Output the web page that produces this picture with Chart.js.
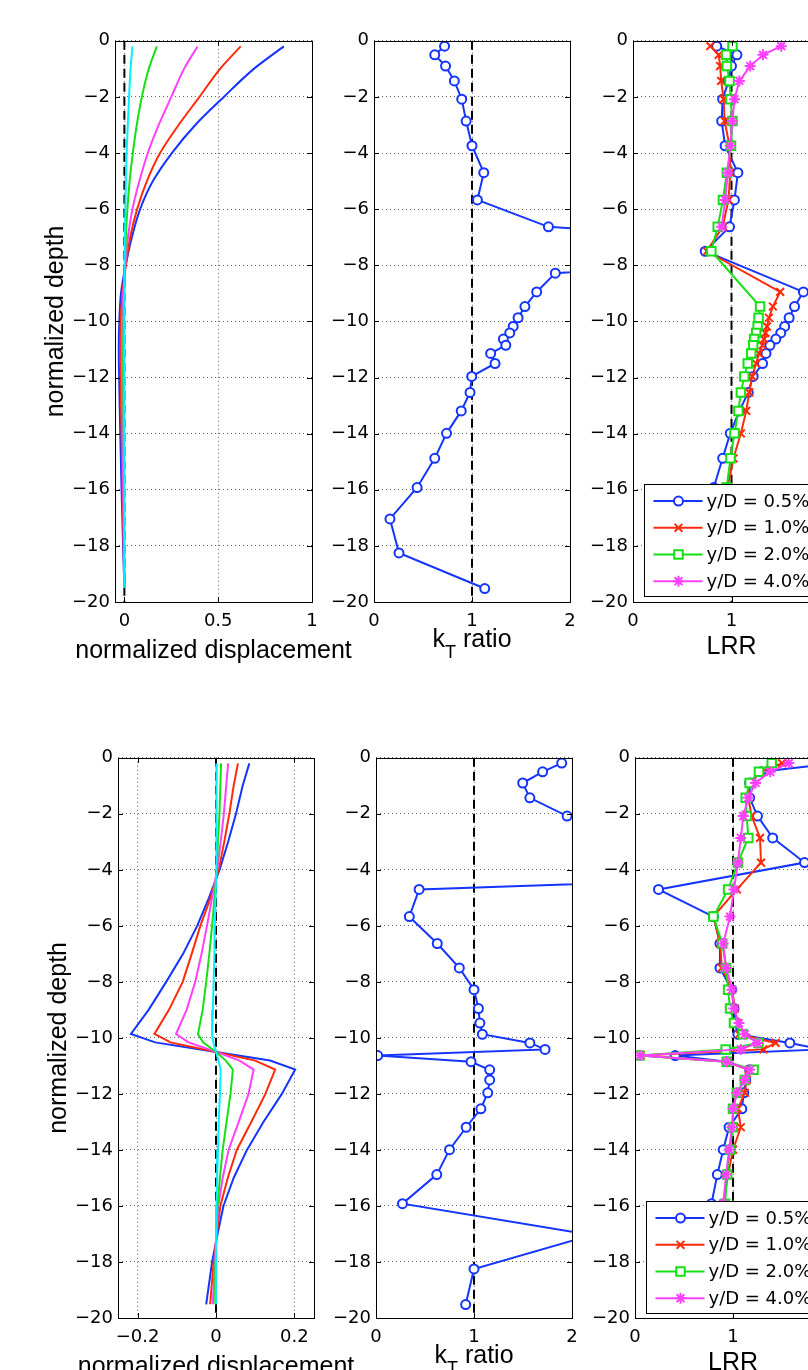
<!DOCTYPE html>
<html>
<head>
<meta charset="utf-8">
<script src="https://cdn.jsdelivr.net/npm/chart.js@4.4.1/dist/chart.umd.min.js"></script>
<style>
  html, body { margin: 0; padding: 0; overflow: hidden; background: #fff; }
  body { width: 808px; height: 1370px; position: relative; }
  canvas { position: absolute; }
</style>
</head>
<body>
<canvas id="dispTop"></canvas>
<canvas id="ratioTop"></canvas>
<canvas id="lrrTop"></canvas>
<canvas id="dispBot"></canvas>
<canvas id="ratioBot"></canvas>
<canvas id="lrrBot"></canvas>
<script>
// Профілі переміщень, k_T і LRR по глибині палі (верхній і нижній ряди).

const depthTicks = [0, -2, -4, -6, -8, -10, -12, -14, -16, -18, -20];
const dispTicksTop = [0, 0.5, 1];
const dispTicksBot = [-0.2, 0, 0.2];
const ratioTicks = [0, 1, 2];
const legendLabels = ["y/D = 0.5%", "y/D = 1.0%", "y/D = 2.0%", "y/D = 4.0%"];

// верхній ряд: переміщення
const dispDepthTop = [-0.2, -1, -2, -3, -4, -5, -6, -7, -8, -9, -10, -11, -12, -14, -16, -18, -19.5];
const dispTopBlue    = [0.85, 0.69, 0.53, 0.378, 0.253, 0.152, 0.084, 0.04, 0.007, -0.018, -0.027, -0.03, -0.028, -0.022, -0.015, -0.007, 0];
const dispTopRed     = [0.62, 0.51, 0.4, 0.289, 0.19, 0.12, 0.068, 0.031, 0.008, -0.01, -0.02, -0.022, -0.02, -0.015, -0.01, -0.004, 0];
const dispTopMagenta = [0.39, 0.318, 0.25, 0.183, 0.125, 0.08, 0.043, 0.019, 0.005, -0.006, -0.012, -0.014, -0.013, -0.01, -0.006, -0.003, 0];
const dispTopGreen   = [0.173, 0.13, 0.093, 0.066, 0.045, 0.028, 0.016, 0.008, 0.003, -0.002, -0.005, -0.006, -0.006, -0.004, -0.002, -0.001, 0];
const dispTopCyan    = [0.043, 0.033, 0.025, 0.018, 0.012, 0.008, 0.005, 0.003, 0.001, 0, -0.001, -0.001, -0.001, -0.001, 0, 0, 0];

// нижній ряд: переміщення
const dispDepthBot = [-0.2, -1, -2, -3, -4, -5, -6, -7, -8, -9, -9.86, -10.16, -10.5, -10.81, -11.13, -12, -13, -14, -15, -16, -17, -18, -19.51];
const dispBotBlue    = [0.085, 0.068, 0.051, 0.031, 0.009, -0.018, -0.048, -0.084, -0.127, -0.172, -0.217, -0.155, 0, 0.138, 0.202, 0.168, 0.121, 0.079, 0.045, 0.019, 0.004, -0.01, -0.025];
const dispBotRed     = [0.056, 0.045, 0.034, 0.021, 0.007, -0.014, -0.04, -0.062, -0.085, -0.12, -0.157, -0.116, 0, 0.1, 0.151, 0.126, 0.09, 0.053, 0.03, 0.011, 0.002, -0.006, -0.015];
const dispBotMagenta = [0.031, 0.026, 0.02, 0.012, 0.003, -0.01, -0.023, -0.037, -0.053, -0.075, -0.102, -0.07, 0, 0.06, 0.096, 0.083, 0.058, 0.032, 0.017, 0.006, 0.001, -0.003, -0.008];
const dispBotGreen   = [0.013, 0.011, 0.009, 0.005, 0.002, -0.004, -0.01, -0.017, -0.025, -0.034, -0.046, -0.033, 0, 0.025, 0.043, 0.037, 0.027, 0.017, 0.01, 0.004, 0.001, -0.001, -0.002];
const dispBotCyan    = [0.002, 0.002, 0.001, 0.001, 0, -0.001, -0.003, -0.004, -0.006, -0.008, -0.01, -0.007, 0, 0.006, 0.012, 0.01, 0.007, 0.005, 0.003, 0.001, 0, 0, 0];

// глибини точок по палі (k_T і LRR)
const pileDepth = [-0.19, -0.5, -0.9, -1.43, -2.08, -2.86, -3.74, -4.7, -5.67, -6.63, -7.5, -8.28, -8.95, -9.47, -9.87,
  -10.18, -10.41, -10.63, -10.85, -11.14, -11.5, -11.96, -12.53, -13.19, -13.99, -14.88, -15.92, -17.04, -18.25, -19.52];

const ratioTop = [0.72, 0.62, 0.73, 0.82, 0.895, 0.94, 1.0, 1.12, 1.055, 1.78, 5.7, 1.85, 1.66, 1.54, 1.47,
  1.42, 1.385, 1.32, 1.345, 1.19, 1.235, 0.997, 0.98, 0.89, 0.74, 0.62, 0.44, 0.163, 0.255, 1.13];
const ratioBot = [1.895, 1.7, 1.497, 1.57, 1.95, 6.0, 8.7, 0.44, 0.34, 0.625, 0.85, 1.0, 1.045, 1.06, 1.085,
  1.57, 1.725, 0.017, 0.97, 1.16, 1.16, 1.14, 1.07, 0.92, 0.75, 0.62, 0.27, 2.2, 1.0, 0.915];

const lrrTop05 = [0.85, 1.055, 1.0, 0.97, 0.91, 0.9, 0.935, 1.065, 1.03, 0.98, 0.733, null, 1.73, 1.64, 1.585,
  1.54, 1.5, 1.45, 1.39, 1.35, 1.315, 1.22, 1.17, 1.08, 0.987, 0.91, 0.82, 0.8, 0.85, 0.9];
const lrrTop10 = [0.785, 0.87, 0.885, 0.895, 0.92, 0.93, 0.98, 0.987, 0.97, 0.91, 0.75, null, 1.494, 1.42, 1.38,
  1.36, 1.345, 1.33, 1.315, 1.28, 1.25, 1.21, 1.18, 1.15, 1.095, 1.02, 0.96, 0.95, 0.97, 1.0];
const lrrTop20 = [1.01, 0.946, 0.953, 0.98, 0.99, 1.01, 0.995, 0.953, 0.913, 0.86, 0.795, null, null, 1.29, 1.275,
  1.265, 1.25, 1.23, 1.22, 1.2, 1.165, 1.13, 1.095, 1.07, 1.03, 0.99, 0.95, 0.95, 0.97, 1.0];
const lrrTop40 = [1.505, 1.32, 1.19, 1.08, 1.03, 1.01, 0.987, 0.963, 0.936, 0.9, null, null, null, null, null,
  null, null, null, null, null, null, null, null, null, null, null, null, null, null, null];

const lrrBot05 = [2.05, 1.286, 1.17, 1.17, 1.25, 1.405, 1.73, 0.24, 0.8, 0.867, 0.867, 0.986, 1.01, 1.03, 1.05,
  1.58, 1.9, 0.41, 0.936, 1.17, 1.13, 1.11, 1.09, 0.96, 0.9, 0.84, 0.78, 0.8, 0.85, 0.9];
const lrrBot10 = [1.5, 1.28, 1.17, 1.156, 1.19, 1.276, 1.286, 1.04, 0.8, 0.87, 0.885, 0.99, 1.02, 1.04, 1.06,
  1.435, 1.31, 0.06, 0.94, 1.16, 1.14, 1.12, 1.05, 1.08, 1.0, 0.95, 0.9, 0.9, 0.92, 0.95];
const lrrBot20 = [1.395, 1.265, 1.17, 1.13, 1.14, 1.156, 1.05, 0.95, 0.8, 0.89, 0.93, 0.95, 0.97, 1.01, 1.1,
  1.26, 0.925, 0.045, 0.936, 1.21, 1.12, 1.04, 1.0, 0.997, 0.97, 0.94, 0.92, 0.92, 0.94, 0.95];
const lrrBot40 = [1.57, 1.38, 1.23, 1.156, 1.105, 1.08, 1.05, 1.01, 0.97, 0.9, 0.93, 0.99, 1.01, 1.06, 1.12,
  1.25, 1.08, 0.05, 0.936, 1.17, 1.12, 1.04, 1.0, 0.99, 0.96, 0.93, 0.9, 0.9, 0.92, 0.94];

const BLUE = "#1434ff", RED = "#ff2a0a", GREEN = "#14e014", MAGENTA = "#ff40ff", CYAN = "#00f0ff";
const TICK_FONT = { family: '"DejaVu Sans", sans-serif', size: 18 };
const LABEL_FONT = '25px "Liberation Sans", Arial, sans-serif';
const SUB_FONT = '18px "Liberation Sans", Arial, sans-serif';
const LEGEND_FONT = '18px "DejaVu Sans", sans-serif';
const PAD_T = 14, PAD_B = 72, TICK_LEN = 5;

const GEO = {
  dispTop:  { left: 115, top: 39, w: 197, h: 563, padL: 110, padR: 60 },
  ratioTop: { left: 374, top: 39, w: 196, h: 563, padL: 60, padR: 24 },
  lrrTop:   { left: 633, top: 39, w: 197, h: 563, padL: 60, padR: 24 },
  dispBot:  { left: 118, top: 756, w: 196, h: 562, padL: 110, padR: 60 },
  ratioBot: { left: 376, top: 756, w: 196, h: 562, padL: 60, padR: 24 },
  lrrBot:   { left: 635, top: 756, w: 196, h: 562, padL: 60, padR: 24 }
};

const fmt = v => (v < 0 ? "\u2212" : "") + String(Math.abs(v));
const toPoints = (depths, values) => depths.map((d, i) => ({ x: values[i], y: d }));

function curve(color, depths, values, order) {
  return { data: toPoints(depths, values), borderColor: color, borderWidth: 2, pointRadius: 0, order, fill: false };
}

function marked(label, color, depths, values, style, radius, order) {
  return {
    label, legend: true, data: toPoints(depths, values), borderColor: color, borderWidth: 2,
    pointStyle: style, pointRadius: radius, pointBorderWidth: 2, pointBorderColor: color,
    pointBackgroundColor: "#fff", spanGaps: true, tension: 0, order, fill: false
  };
}

function refLine(x) {
  return { data: [{ x, y: 0 }, { x, y: -20 }], borderColor: "#000", borderWidth: 2, borderDash: [9, 5], pointRadius: 0, order: 10 };
}

function lrrSets(v05, v10, v20, v40) {
  return [
    marked(legendLabels[0], BLUE, pileDepth, v05, "circle", 4.5, 4),
    marked(legendLabels[1], RED, pileDepth, v10, "crossRot", 5.5, 3),
    marked(legendLabels[2], GREEN, pileDepth, v20, "rect", 6, 2),
    marked(legendLabels[3], MAGENTA, pileDepth, v40, "star", 5.5, 1),
    refLine(1)
  ];
}

// рамка осей з внутрішніми рисками, як у MATLAB
const matlabFrame = {
  id: "matlabFrame",
  afterDatasetsDraw(chart) {
    const { ctx, chartArea: a, scales: { x, y } } = chart;
    ctx.save();
    ctx.strokeStyle = "#000";
    ctx.lineWidth = 1;
    ctx.beginPath();
    x.ticks.forEach(t => {
      const px = Math.round(x.getPixelForValue(t.value)) + 0.5;
      ctx.moveTo(px, a.bottom); ctx.lineTo(px, a.bottom - TICK_LEN);
      ctx.moveTo(px, a.top); ctx.lineTo(px, a.top + TICK_LEN);
    });
    y.ticks.forEach(t => {
      const py = Math.round(y.getPixelForValue(t.value)) + 0.5;
      ctx.moveTo(a.left, py); ctx.lineTo(a.left + TICK_LEN, py);
      ctx.moveTo(a.right, py); ctx.lineTo(a.right - TICK_LEN, py);
    });
    ctx.stroke();
    ctx.strokeRect(Math.round(a.left) + 0.5, Math.round(a.top) + 0.5, Math.round(a.right - a.left), Math.round(a.bottom - a.top));
    ctx.restore();
  }
};

// підписи осей (з нижнім індексом для k_T)
const axisTitles = {
  id: "axisTitles",
  afterDraw(chart, args, opts) {
    const { ctx, chartArea: a } = chart;
    ctx.save();
    ctx.fillStyle = "#000";
    if (opts.x) {
      const parts = opts.x.map(p => {
        ctx.font = p.sub ? SUB_FONT : LABEL_FONT;
        return { ...p, w: ctx.measureText(p.text).width };
      });
      const total = parts.reduce((s, p) => s + p.w, 0);
      let px = (a.left + a.right) / 2 - total / 2;
      const base = a.bottom + opts.xBase;
      ctx.textAlign = "left";
      ctx.textBaseline = "alphabetic";
      parts.forEach(p => {
        ctx.font = p.sub ? SUB_FONT : LABEL_FONT;
        ctx.fillText(p.text, px, base + (p.sub ? 11 : 0));
        px += p.w;
      });
    }
    if (opts.y) {
      ctx.translate(a.left - opts.yOffset, (a.top + a.bottom) / 2);
      ctx.rotate(-Math.PI / 2);
      ctx.font = LABEL_FONT;
      ctx.textAlign = "center";
      ctx.textBaseline = "middle";
      ctx.fillText(opts.y, 0, 0);
    }
    ctx.restore();
  }
};

// легенда всередині області графіка
const inlineLegend = {
  id: "inlineLegend",
  afterDatasetsDraw(chart, args, opts) {
    if (!opts.show) return;
    const { ctx, chartArea: a } = chart;
    const x0 = Math.round(a.left + 11) + 0.5, y0 = Math.round(a.top + 443) + 0.5, w = 185, h = 112;
    ctx.save();
    ctx.fillStyle = "#fff";
    ctx.fillRect(x0, y0, w, h);
    ctx.strokeStyle = "#000";
    ctx.lineWidth = 1;
    ctx.strokeRect(x0, y0, w, h);
    chart.data.datasets.filter(d => d.legend).forEach((ds, i) => {
      const cy = y0 + 16.6 + i * 26.7;
      ctx.strokeStyle = ds.borderColor;
      ctx.lineWidth = ds.borderWidth;
      ctx.beginPath();
      ctx.moveTo(x0 + 9, cy);
      ctx.lineTo(x0 + 58, cy);
      ctx.stroke();
      ctx.fillStyle = ds.pointBackgroundColor;
      ctx.lineWidth = ds.pointBorderWidth;
      Chart.helpers.drawPoint(ctx, { pointStyle: ds.pointStyle, radius: ds.pointRadius, rotation: 0, borderWidth: ds.pointBorderWidth }, x0 + 34, cy);
      ctx.fillStyle = "#000";
      ctx.font = LEGEND_FONT;
      ctx.textAlign = "left";
      ctx.textBaseline = "middle";
      ctx.fillText(ds.label, x0 + 62, cy + 1);
    });
    ctx.restore();
  }
};

function panel(id, { datasets, xMin, xMax, xTicks, xTitle, xBase, yTitle, legend = false, indexAxis = "x" }) {
  const g = GEO[id];
  const canvas = document.getElementById(id);
  canvas.width = g.w + g.padL + g.padR;
  canvas.height = g.h + PAD_T + PAD_B;
  canvas.style.left = (g.left - g.padL) + "px";
  canvas.style.top = (g.top - PAD_T) + "px";
  const gridOpts = { color: "rgba(0,0,0,0.6)", lineWidth: 1, drawTicks: false };
  const borderOpts = { display: false, dash: [1, 3] };
  return new Chart(canvas, {
    type: "line",
    data: { datasets },
    options: {
      responsive: false,
      animation: false,
      events: [],
      indexAxis,
      layout: { padding: { left: 0, top: PAD_T, right: g.padR, bottom: 0 } },
      plugins: {
        legend: { display: false },
        tooltip: { enabled: false },
        axisTitles: { x: xTitle, xBase, y: yTitle, yOffset: 59 },
        inlineLegend: { show: legend }
      },
      scales: {
        x: {
          type: "linear", position: "bottom", min: xMin, max: xMax,
          afterBuildTicks: s => { s.ticks = xTicks.map(value => ({ value })); },
          afterFit: s => { s.height = PAD_B; },
          grid: gridOpts, border: borderOpts,
          ticks: { font: TICK_FONT, color: "#000", padding: 9, maxRotation: 0, callback: fmt }
        },
        y: {
          type: "linear", position: "left", min: -20, max: 0,
          afterBuildTicks: s => { s.ticks = depthTicks.map(value => ({ value })); },
          afterFit: s => { s.width = g.padL; },
          grid: gridOpts, border: borderOpts,
          ticks: { font: TICK_FONT, color: "#000", padding: 5, callback: fmt }
        }
      }
    },
    plugins: [matlabFrame, inlineLegend, axisTitles]
  });
}

const dispTitle = [{ text: "normalized displacement" }];
const ratioTitle = [{ text: "k" }, { text: "T", sub: true }, { text: " ratio" }];
const lrrTitle = [{ text: "LRR" }];

panel("dispTop", {
  indexAxis: "y",
  datasets: [
    { ...curve(BLUE, dispDepthTop, dispTopBlue, 5), cubicInterpolationMode: "monotone" },
    { ...curve(RED, dispDepthTop, dispTopRed, 4), cubicInterpolationMode: "monotone" },
    { ...curve(MAGENTA, dispDepthTop, dispTopMagenta, 3), cubicInterpolationMode: "monotone" },
    { ...curve(GREEN, dispDepthTop, dispTopGreen, 2), cubicInterpolationMode: "monotone" },
    { ...curve(CYAN, dispDepthTop, dispTopCyan, 1), cubicInterpolationMode: "monotone" },
    refLine(0)
  ],
  xMin: -0.05, xMax: 1, xTicks: dispTicksTop, xTitle: dispTitle, xBase: 56, yTitle: "normalized depth"
});

panel("ratioTop", {
  datasets: [marked("k_T", BLUE, pileDepth, ratioTop, "circle", 4.5, 1), refLine(1)],
  xMin: 0, xMax: 2, xTicks: ratioTicks, xTitle: ratioTitle, xBase: 45
});

panel("lrrTop", {
  datasets: lrrSets(lrrTop05, lrrTop10, lrrTop20, lrrTop40),
  xMin: 0, xMax: 2, xTicks: ratioTicks, xTitle: lrrTitle, xBase: 52, legend: true
});

panel("dispBot", {
  datasets: [
    curve(BLUE, dispDepthBot, dispBotBlue, 5),
    curve(RED, dispDepthBot, dispBotRed, 4),
    curve(MAGENTA, dispDepthBot, dispBotMagenta, 3),
    curve(GREEN, dispDepthBot, dispBotGreen, 2),
    curve(CYAN, dispDepthBot, dispBotCyan, 1),
    refLine(0)
  ],
  xMin: -0.25, xMax: 0.25, xTicks: dispTicksBot, xTitle: dispTitle, xBase: 56, yTitle: "normalized depth"
});

panel("ratioBot", {
  datasets: [marked("k_T", BLUE, pileDepth, ratioBot, "circle", 4.5, 1), refLine(1)],
  xMin: 0, xMax: 2, xTicks: ratioTicks, xTitle: ratioTitle, xBase: 45
});

panel("lrrBot", {
  datasets: lrrSets(lrrBot05, lrrBot10, lrrBot20, lrrBot40),
  xMin: 0, xMax: 2, xTicks: ratioTicks, xTitle: lrrTitle, xBase: 52, legend: true
});
</script>
</body>
</html>
